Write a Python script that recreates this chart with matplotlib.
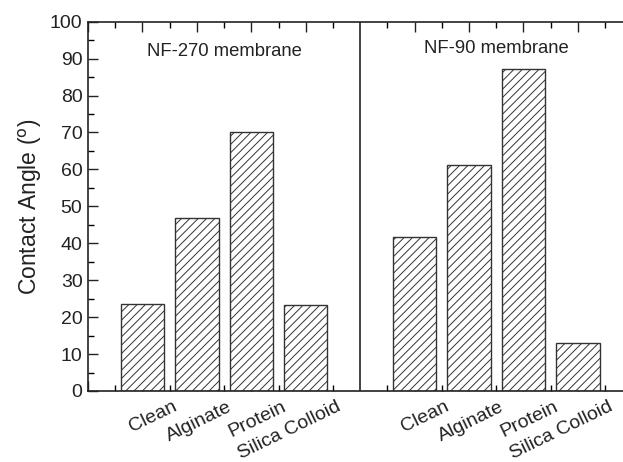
import numpy as np
import matplotlib.pyplot as plt
import matplotlib.transforms as mtransforms

plt.rcParams['font.family'] = ['Liberation Sans', 'DejaVu Sans']
plt.rcParams['hatch.linewidth'] = 0.7
plt.rcParams['hatch.color'] = '#333333'

# data
categories = ['Clean', 'Alginate', 'Protein', 'Silica Colloid']
nf270_angle = [23.5, 46.8, 70.1, 23.3]
nf90_angle = [41.8, 61.2, 87.2, 12.9]
panel_titles = ['NF-270 membrane', 'NF-90 membrane']

fig = plt.figure(figsize=(6.23, 4.62), dpi=100)
ax = fig.add_axes([0.1413, 0.1537, 0.8587, 0.7994])

pos_270 = np.arange(1, 5)
pos_90 = np.arange(6, 10)
for pos, vals in [(pos_270, nf270_angle), (pos_90, nf90_angle)]:
    ax.bar(pos, vals, width=0.8, facecolor='white', edgecolor='#333333',
           linewidth=1.0, hatch='////', zorder=2)

# divider between the two membranes
ax.axvline(5, color='#222222', lw=1.2, zorder=3)

ax.set_xlim(0, 9.83)
ax.set_ylim(0, 100)
ax.set_yticks(np.arange(0, 101, 10))
ax.set_yticks(np.arange(5, 100, 10), minor=True)
ax.set_xticks([0, 1, 2, 3, 4, 6, 7, 8, 9])
ax.set_xticks(np.arange(0.5, 9.6, 1.0), minor=True)
ax.set_xticklabels([])

for s in ['left', 'bottom', 'top']:
    ax.spines[s].set_linewidth(1.2)
    ax.spines[s].set_color('#222222')
ax.spines['right'].set_visible(False)

ax.tick_params(which='major', direction='in', length=7, width=1.0,
               top=True, right=False, labelsize=14, colors='#222222', pad=4)
ax.tick_params(which='minor', direction='in', length=4, width=1.0,
               top=True, right=False)

ax.set_ylabel(r'Contact Angle ($^{\mathrm{o}}$)', fontsize=16.5, labelpad=4,
              color='#222222')

# rotated category labels under each bar
trans = mtransforms.blended_transform_factory(ax.transData, ax.transAxes)
for pos in (pos_270, pos_90):
    for p, name in zip(pos, categories):
        ax.text(p + 0.55, -0.02, name, transform=trans, rotation=26,
                rotation_mode='anchor', ha='right', va='top', fontsize=14,
                color='#222222')

ax.text(2.5, 92, panel_titles[0], ha='center', va='center', fontsize=13.3,
        color='#222222')
ax.text(7.5, 92.7, panel_titles[1], ha='center', va='center', fontsize=13.3,
        color='#222222')

fig.savefig('out.png', dpi=100)
